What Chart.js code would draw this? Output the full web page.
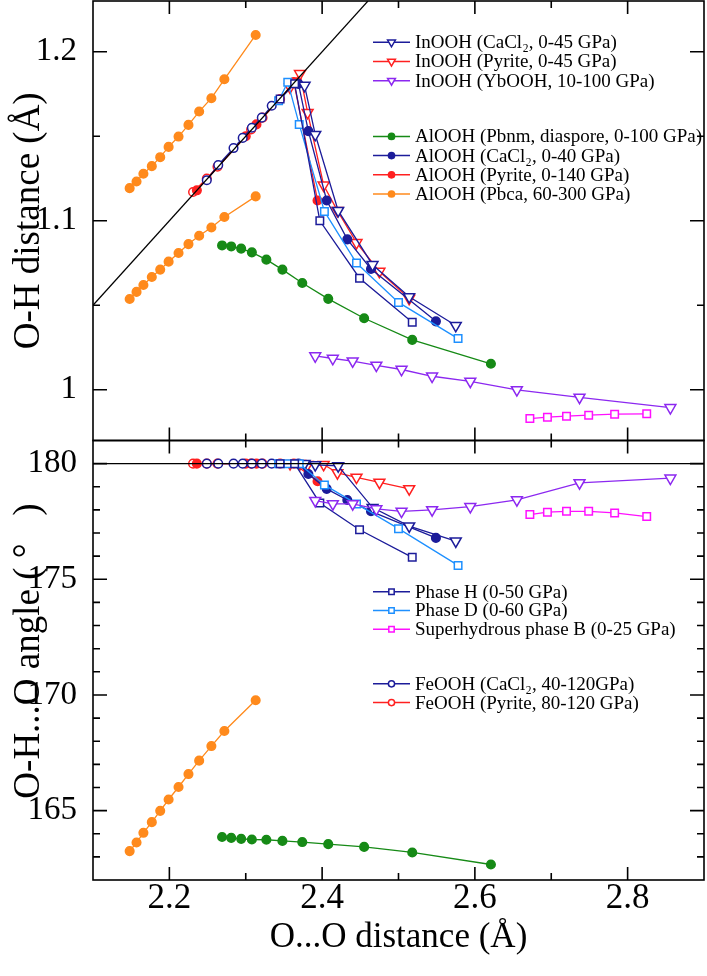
<!DOCTYPE html>
<html>
<head>
<meta charset="utf-8">
<script src="https://cdn.jsdelivr.net/npm/chart.js@4.4.1/dist/chart.umd.min.js"></script>
<style>
  html, body { margin: 0; padding: 0; background: #fff; }
  #wrap { width: 707px; height: 976px; }
</style>
</head>
<body>
<div id="wrap"><canvas id="myChart" width="707" height="976"></canvas></div>
<script>
// Axis ticks
const xMajor = [2.2, 2.4, 2.6, 2.8]
const xMinor = [2.3, 2.5, 2.7]
const ohMajor = [1.0, 1.1, 1.2]
const ohMinor = [1.05, 1.15]
const angMajor = [165, 170, 175, 180]
const angMinor = [163, 164, 166, 167, 168, 169, 171, 172, 173, 174, 176, 177, 178, 179]

// Reference lines (symmetric bond, linear bond)
const symX = [2.1, 2.46]
const symOH = [1.05, 1.23]
const flatX = [2.1, 2.9]
const flatAng = [180, 180]

// InOOH (CaCl2, 0-45 GPa)
const inCaX = [2.377, 2.391, 2.421, 2.466, 2.514, 2.575]
const inCaOH = [1.180, 1.151, 1.106, 1.074, 1.055, 1.038]
const inCaAng = [180, 179.95, 179.9, 178.1, 177.3, 176.65]

// InOOH (Pyrite, 0-45 GPa)
const inPyX = [2.358, 2.371, 2.381, 2.402, 2.420, 2.445, 2.475, 2.514]
const inPyOH = [1.179, 1.187, 1.164, 1.121, 1.106, 1.087, 1.070, 1.054]
const inPyAng = [180, 180, 179.96, 179.96, 179.6, 179.41, 179.19, 178.91]

// InOOH (YbOOH, 10-100 GPa)
const inYbX = [2.391, 2.414, 2.440, 2.471, 2.504, 2.544, 2.594, 2.655, 2.737, 2.856]
const inYbOH = [1.020, 1.0185, 1.017, 1.0145, 1.012, 1.008, 1.005, 1.000, 0.9955, 0.9894]
const inYbAng = [178.4, 178.26, 178.26, 178.04, 177.94, 178.0, 178.14, 178.43, 179.17, 179.37]

// AlOOH (Pbnm, diaspore, 0-100 GPa)
const alDiaX = [2.269, 2.281, 2.294, 2.308, 2.327, 2.348, 2.374, 2.408, 2.455, 2.518, 2.621]
const alDiaOH = [1.0854, 1.0848, 1.0835, 1.0813, 1.077, 1.0711, 1.0632, 1.0538, 1.0423, 1.0295, 1.0154]
const alDiaAng = [163.86, 163.82, 163.78, 163.75, 163.74, 163.69, 163.64, 163.55, 163.43, 163.19, 162.67]

// AlOOH (CaCl2, 0-40 GPa)
const alCaX = [2.369, 2.382, 2.406, 2.433, 2.464, 2.549]
const alCaOH = [1.181, 1.153, 1.112, 1.089, 1.0715, 1.0405]
const alCaAng = [180, 179.55, 178.91, 178.43, 177.94, 176.79]

// AlOOH (Pyrite, 0-140 GPa)
const alPyX = [2.236, 2.300, 2.314, 2.345, 2.363, 2.394]
const alPyOH = [1.118, 1.150, 1.157, 1.172, 1.182, 1.112]
const alPyAng = [180, 180, 180, 180, 180, 179.24]

// AlOOH (Pbca, 60-300 GPa) - two O-H bonds
const alPbX = [2.148, 2.157, 2.166, 2.177, 2.188, 2.199, 2.212, 2.225, 2.239, 2.255, 2.272, 2.313]
const alPbOH1 = [1.1193, 1.1232, 1.1278, 1.1323, 1.1376, 1.1437, 1.1498, 1.1567, 1.1646, 1.1725, 1.1837, 1.2099]
const alPbOH2 = [1.0537, 1.0579, 1.062, 1.0667, 1.0711, 1.0758, 1.0809, 1.0862, 1.0911, 1.096, 1.1022, 1.1144]
const alPbAng = [163.25, 163.62, 164.04, 164.5, 164.99, 165.48, 166.02, 166.58, 167.16, 167.79, 168.44, 169.77]

// Phase H (0-50 GPa)
const phHX = [2.345, 2.364, 2.397, 2.449, 2.518]
const phHOH = [1.172, 1.181, 1.100, 1.066, 1.040]
const phHAng = [180, 180, 178.3, 177.14, 175.95]

// Phase D (0-60 GPa)
const phDX = [2.343, 2.355, 2.370, 2.403, 2.445, 2.500, 2.578]
const phDOH = [1.171, 1.182, 1.157, 1.1055, 1.075, 1.0517, 1.0303]
const phDAng = [180, 180, 180, 179.08, 178.26, 177.19, 175.60]

// Superhydrous phase B (0-25 GPa)
const shbX = [2.672, 2.695, 2.720, 2.749, 2.783, 2.825]
const shbOH = [0.983, 0.9838, 0.9844, 0.985, 0.9856, 0.9858]
const shbAng = [177.80, 177.90, 177.94, 177.94, 177.87, 177.71]

// FeOOH (CaCl2, 40-120 GPa)
const feCaX = [2.249, 2.264, 2.284, 2.296, 2.308, 2.321, 2.334]
const feCaOH = [1.124, 1.133, 1.143, 1.149, 1.155, 1.161, 1.168]
const feCaAng = [180, 180, 180, 180, 180, 180, 180]

// FeOOH (Pyrite, 80-120 GPa)
const fePyX = [2.231, 2.249, 2.263, 2.307, 2.322]
const fePyOH = [1.117, 1.125, 1.132, 1.154, 1.161]
const fePyAng = [180, 180, 180, 180, 180]

// colours
const navy = '#1c1c9a'
const red = '#ff2020'
const purple = '#8c28f0'
const green = '#168a16'
const orange = '#ff8a1c'
const sky = '#1e90ff'
const magenta = '#ff10ff'

const serif = "'Liberation Serif', 'Times New Roman', serif"

function pts(xs, ys) {
    return xs.map((x, i) => ({ x: x, y: ys[i] }))
}

// marker kinds
const kinds = {
    tri: { pointStyle: 'triangle', rotation: 180, radius: 6.3, filled: false },
    dot: { pointStyle: 'circle', rotation: 0, radius: 4.3, filled: true },
    sq: { pointStyle: 'rect', rotation: 0, radius: 5.3, filled: false },
    ring: { pointStyle: 'circle', rotation: 0, radius: 4.3, filled: false }
}

function series(xs, ys, axis, color, kind) {
    const k = kinds[kind]
    return {
        data: pts(xs, ys),
        yAxisID: axis,
        showLine: true,
        borderColor: color,
        borderWidth: 1.3,
        backgroundColor: k.filled ? color : '#fff',
        pointBackgroundColor: k.filled ? color : '#fff',
        pointBorderColor: color,
        pointBorderWidth: 1.5,
        pointStyle: k.pointStyle,
        pointRotation: k.rotation,
        pointRadius: k.radius,
        pointHoverRadius: k.radius,
        tension: 0
    }
}

function refLine(xs, ys, axis) {
    return {
        data: pts(xs, ys),
        yAxisID: axis,
        showLine: true,
        borderColor: '#000',
        borderWidth: 1.2,
        pointRadius: 0,
        tension: 0
    }
}

const datasets = [
    refLine(symX, symOH, 'yTop'),
    refLine(flatX, flatAng, 'yBot'),
    // top panel: O-H distance
    series(alPbX, alPbOH1, 'yTop', orange, 'dot'),
    series(alPbX, alPbOH2, 'yTop', orange, 'dot'),
    series(alDiaX, alDiaOH, 'yTop', green, 'dot'),
    series(inYbX, inYbOH, 'yTop', purple, 'tri'),
    series(shbX, shbOH, 'yTop', magenta, 'sq'),
    series(phHX, phHOH, 'yTop', navy, 'sq'),
    series(phDX, phDOH, 'yTop', sky, 'sq'),
    series(inCaX, inCaOH, 'yTop', navy, 'tri'),
    series(alCaX, alCaOH, 'yTop', navy, 'dot'),
    series(feCaX, feCaOH, 'yTop', navy, 'ring'),
    series(inPyX, inPyOH, 'yTop', red, 'tri'),
    series(alPyX, alPyOH, 'yTop', red, 'dot'),
    series(fePyX, fePyOH, 'yTop', red, 'ring'),
    // bottom panel: O-H...O angle
    series(alPbX, alPbAng, 'yBot', orange, 'dot'),
    series(alDiaX, alDiaAng, 'yBot', green, 'dot'),
    series(inYbX, inYbAng, 'yBot', purple, 'tri'),
    series(shbX, shbAng, 'yBot', magenta, 'sq'),
    series(phHX, phHAng, 'yBot', navy, 'sq'),
    series(phDX, phDAng, 'yBot', sky, 'sq'),
    series(inCaX, inCaAng, 'yBot', navy, 'tri'),
    series(alCaX, alCaAng, 'yBot', navy, 'dot'),
    series(feCaX, feCaAng, 'yBot', navy, 'ring'),
    series(inPyX, inPyAng, 'yBot', red, 'tri'),
    series(alPyX, alPyAng, 'yBot', red, 'dot'),
    series(fePyX, fePyAng, 'yBot', red, 'ring')
]

// legend entries drawn inside the panels
const topLegend = [
    ['InOOH (CaCl\u2082, 0-45 GPa)', navy, 'tri'],
    ['InOOH (Pyrite, 0-45 GPa)', red, 'tri'],
    ['InOOH (YbOOH, 10-100 GPa)', purple, 'tri'],
    null,
    ['AlOOH (Pbnm, diaspore, 0-100 GPa)', green, 'dot'],
    ['AlOOH (CaCl\u2082, 0-40 GPa)', navy, 'dot'],
    ['AlOOH (Pyrite, 0-140 GPa)', red, 'dot'],
    ['AlOOH (Pbca, 60-300 GPa)', orange, 'dot']
]
const botLegend = [
    ['Phase H (0-50 GPa)', navy, 'sq'],
    ['Phase D (0-60 GPa)', sky, 'sq'],
    ['Superhydrous phase B (0-25 GPa)', magenta, 'sq'],
    null,
    ['FeOOH (CaCl\u2082, 40-120GPa)', navy, 'ring'],
    ['FeOOH (Pyrite, 80-120 GPa)', red, 'ring']
]

function drawLegend(ctx, items, x0, y0, step) {
    let y = y0
    items.forEach(item => {
        if (!item) { y += step * 1.9; return }
        const [label, color, kind] = item
        const k = kinds[kind]
        ctx.strokeStyle = color
        ctx.lineWidth = 1.5
        ctx.beginPath()
        ctx.moveTo(x0, y)
        ctx.lineTo(x0 + 37, y)
        ctx.stroke()
        ctx.fillStyle = k.filled ? color : '#fff'
        Chart.helpers.drawPoint(ctx, {
            pointStyle: k.pointStyle, rotation: k.rotation,
            radius: k.radius * 0.72, borderWidth: 1.5
        }, x0 + 18.5, y)
        ctx.fillStyle = '#000'
        ctx.font = '19px ' + serif
        ctx.textAlign = 'left'
        ctx.textBaseline = 'middle'
        ctx.fillText(label, x0 + 42, y + 1)
        y += step
    })
}

const framePlugin = {
    id: 'frame',
    beforeDatasetsDraw(chart) {
        const ctx = chart.ctx
        const xs = chart.scales.x
        const l = xs.left, r = xs.right
        const panels = [
            [chart.scales.yTop, ohMajor, ohMinor],
            [chart.scales.yBot, angMajor, angMinor]
        ]
        ctx.save()
        ctx.strokeStyle = '#000'
        ctx.lineWidth = 1.6
        panels.forEach(([ys, maj, mnr]) => {
            const t = ys.top, b = ys.bottom
            ctx.strokeRect(l, t, r - l, b - t)
            ctx.beginPath()
            const xt = (v, len) => {
                const p = xs.getPixelForValue(v)
                ctx.moveTo(p, t); ctx.lineTo(p, t + len)
                ctx.moveTo(p, b); ctx.lineTo(p, b - len)
            }
            const yt = (v, len) => {
                const p = ys.getPixelForValue(v)
                ctx.moveTo(l, p); ctx.lineTo(l + len, p)
                ctx.moveTo(r, p); ctx.lineTo(r - len, p)
            }
            xMajor.forEach(v => xt(v, 13))
            xMinor.forEach(v => xt(v, 7))
            maj.forEach(v => yt(v, 14))
            mnr.forEach(v => yt(v, 7))
            ctx.stroke()
        })
        // x tick labels, just under the bottom panel
        ctx.fillStyle = '#000'
        ctx.font = '35px ' + serif
        ctx.textAlign = 'center'
        ctx.textBaseline = 'middle'
        xMajor.forEach(v => ctx.fillText(v.toFixed(1), xs.getPixelForValue(v), xs.top + 19))
        ctx.restore()
    },
    afterDatasetsDraw(chart) {
        const ctx = chart.ctx
        ctx.save()
        drawLegend(ctx, topLegend, 373, 42.3, 19.2)
        drawLegend(ctx, botLegend, 373, 591.7, 18.8)
        ctx.restore()
    }
}

function fixTicks(values) {
    return scale => { scale.ticks = values.map(v => ({ value: v })) }
}

// no extra padding for labels near the panel edges
function fitY(s) {
    s.width = 93
    s.paddingTop = 0
    s.paddingBottom = 0
}
function fitX(s) {
    s.height = 96
    s.paddingLeft = 0
    s.paddingRight = 0
}

const ctx = document.getElementById('myChart')

new Chart(ctx, {
    type: 'scatter',
    data: { datasets: datasets },
    plugins: [framePlugin],
    options: {
        responsive: false,
        animation: false,
        events: [],
        layout: { autoPadding: false, padding: { left: 0, right: 3, top: 1, bottom: 0 } },
        plugins: { legend: { display: false }, tooltip: { enabled: false } },
        scales: {
            x: {
                type: 'linear', position: 'bottom', min: 2.1, max: 2.9,
                grid: { display: false },
                border: { display: false },
                afterBuildTicks: fixTicks(xMajor),
                afterFit: fitX,
                ticks: { display: false },
                title: {
                    display: true, text: 'O...O distance (\u00c5)', color: '#000',
                    font: { family: serif, size: 35 }, padding: { top: 0, bottom: 17 }
                }
            },
            yTop: {
                type: 'linear', position: 'left', stack: 'panels', stackWeight: 1, weight: 2,
                min: 0.97, max: 1.23,
                grid: { display: false },
                border: { display: false },
                afterBuildTicks: fixTicks(ohMajor),
                afterFit: fitY,
                ticks: {
                    color: '#000', padding: 8, font: { family: serif, size: 33 },
                    callback: v => Math.abs(v - 1) < 1e-9 ? '1' : v.toFixed(1)
                },
                title: {
                    display: true, text: 'O-H distance (\u00c5)', color: '#000',
                    font: { family: serif, size: 37 }, padding: { top: 7, bottom: 0 }
                }
            },
            yBot: {
                type: 'linear', position: 'left', stack: 'panels', stackWeight: 1, weight: 1,
                min: 162, max: 181,
                grid: { display: false },
                border: { display: false },
                afterBuildTicks: fixTicks(angMajor),
                afterFit: fitY,
                ticks: {
                    color: '#000', padding: 8, font: { family: serif, size: 33 },
                    callback: v => String(v)
                },
                title: {
                    display: true, text: '  O-H...O angle ( \u00b0   )', color: '#000',
                    font: { family: serif, size: 37 }, padding: { top: 7, bottom: 0 }
                }
            }
        }
    }
})
</script>
</body>
</html>
